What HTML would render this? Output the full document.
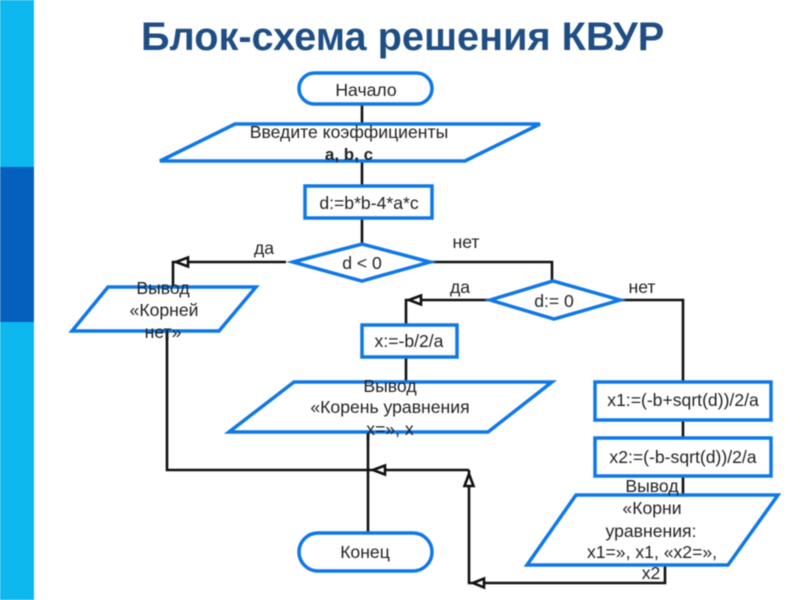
<!DOCTYPE html>
<html><head><meta charset="utf-8">
<style>
html,body{margin:0;padding:0;background:#fff;width:800px;height:600px;overflow:hidden}
svg{display:block;filter:blur(0.45px)}
text{font-family:"Liberation Sans",sans-serif;font-size:17.6px;fill:#222;text-anchor:middle}
.t{font-size:39.7px;font-weight:bold;fill:#1f4e85;text-anchor:start}
.bd{font-size:17px;font-weight:bold}
.b{fill:#fff;stroke:#0f78e6;stroke-width:3.5}
.l{fill:none;stroke:#111;stroke-width:2.6}
.a{fill:#fff;stroke:#111;stroke-width:2.6}
</style></head><body>
<svg width="800" height="600" viewBox="0 0 800 600" xmlns="http://www.w3.org/2000/svg">
<rect x="0" y="0" width="34" height="600" fill="#0cb8ee"/>
<rect x="0" y="167" width="34" height="155" fill="#0560bd"/>
<text class="t" x="141" y="50">Блок-схема решения КВУР</text>

<path class="l" d="M362 105V124M362 161V186M362 218V244"/>
<path class="l" d="M286 262H173V287"/>
<path class="l" d="M430 262H552V281"/>
<path class="l" d="M490 300H406V325M406 357V381"/>
<path class="l" d="M620 300H683V382M683 420V438M683 476V495"/>
<path class="l" d="M167 331V470H469"/>
<path class="l" d="M368 433V533"/>
<path class="l" d="M665 565V583H469V470"/>

<polygon class="a" points="176,262 188,257.5 188,266.5"/>
<polygon class="a" points="409,300 421,295.5 421,304.5"/>
<polygon class="a" points="373,470 385,465.5 385,474.5"/>
<polygon class="a" points="469,474 473.5,486 464.5,486"/>
<polygon class="a" points="473,583 484,578.5 484,587.5"/>

<rect class="b" x="299" y="73" width="133" height="31" rx="15.5"/>
<polygon class="b" points="235,124 540,124 465,161 160,161"/>
<rect class="b" x="305" y="186" width="127" height="32"/>
<polygon class="b" points="293,262 362,244 430,262 362,281"/>
<polygon class="b" points="108,287 256,287 219,331 72,331"/>
<polygon class="b" points="490,300 553,281 620,300 554,319"/>
<rect class="b" x="362" y="325" width="95" height="32"/>
<polygon class="b" points="294,382 552,382 488,432 229,432"/>
<rect class="b" x="595" y="382" width="176" height="38"/>
<rect class="b" x="595" y="438" width="176" height="38"/>
<polygon class="b" points="576,495 778,495 728,565 527,565"/>
<rect class="b" x="299" y="533" width="133" height="38" rx="19"/>

<path class="l" d="M167 331V340M368 433V440"/>

<text x="366" y="96">Начало</text>
<text x="349" y="138">Введите коэффициенты</text>
<text class="bd" x="349" y="160">a, b, c</text>
<text x="369" y="209">d:=b*b-4*a*c</text>
<text x="362" y="269">d &lt; 0</text>
<text x="264" y="254">да</text>
<text x="466" y="248">нет</text>
<text x="460" y="293">да</text>
<text x="642" y="293">нет</text>
<text x="554" y="307">d:= 0</text>
<text x="163" y="294">Вывод</text>
<text x="164" y="316">«Корней</text>
<text x="163" y="338">нет»</text>
<text x="409" y="347">x:=-b/2/a</text>
<text x="390" y="392">Вывод</text>
<text x="390" y="413">«Корень уравнения</text>
<text x="390" y="435">x=», x</text>
<text x="683" y="406">x1:=(-b+sqrt(d))/2/a</text>
<text x="683" y="463">x2:=(-b-sqrt(d))/2/a</text>
<text x="652" y="492">Вывод</text>
<text x="652" y="514">«Корни</text>
<text x="651" y="537">уравнения:</text>
<text x="652" y="558">x1=», x1, «x2=»,</text>
<text x="651" y="579">x2</text>
<text x="365" y="558">Конец</text>
</svg>
</body></html>
